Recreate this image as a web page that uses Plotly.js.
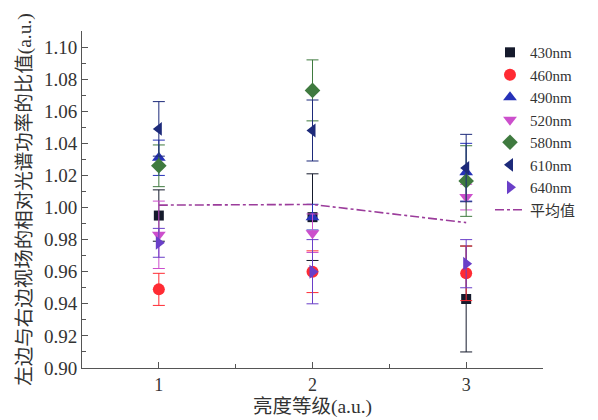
<!DOCTYPE html>
<html>
<head>
<meta charset="utf-8">
<script src="https://cdn.plot.ly/plotly-3.0.1.min.js"></script>
<style>
  html, body { margin: 0; padding: 0; background: #fff; }
  #chart { width: 598px; height: 420px; }
</style>
</head>
<body>
<div id="chart"></div>
<script>
// Brightness levels (x positions)
const levels = [1, 2, 3];

// Ratio of left/right field relative spectral power, per wavelength
const v430 = [0.995, 0.994, 0.943];
const v460 = [0.949, 0.960, 0.959];
const v490 = [1.031, 0.994, 1.022];
const v520 = [0.983, 0.984, 1.0065];
const v580 = [1.026, 1.073, 1.0165];
const v610 = [1.049, 1.048, 1.0246];
const v640 = [0.978, 0.960, 0.965];

// Error bar half-widths
const e430 = [0.016, 0.027, 0.033];
const e460 = [0.010, 0.013, 0.017];
const e490 = [0.011, 0.008, 0.018];
const e520 = [0.021, 0.012, 0.008];
const e580 = [0.013, 0.019, 0.022];
const e610 = [0.017, 0.019, 0.021];
const e640 = [0.009, 0.020, 0.015];

// Average across wavelengths
const avg = [1.0015, 1.0019, 0.9906];

const names = ['430nm', '460nm', '490nm', '520nm', '580nm', '610nm', '640nm', '平均值'];

const seriesDefs = [
  { y: v430, e: e430, color: '#151a2c', symbol: 'square', size: 10 },
  { y: v460, e: e460, color: '#ff2b33', symbol: 'circle', size: 12 },
  { y: v490, e: e490, color: '#2631b8', symbol: 'triangle-up', size: 12 },
  { y: v520, e: e520, color: '#cc4fcc', symbol: 'triangle-down', size: 12 },
  { y: v580, e: e580, color: '#3f7a3f', symbol: 'diamond', size: 12 },
  { y: v610, e: e610, color: '#1d2a7a', symbol: 'triangle-left', size: 12 },
  { y: v640, e: e640, color: '#6a3fc8', symbol: 'triangle-right', size: 12 }
];

const traces = seriesDefs.map((s, i) => ({
  type: 'scatter',
  mode: 'markers',
  name: names[i],
  x: levels,
  y: s.y,
  marker: { symbol: s.symbol, size: s.size, color: s.color },
  error_y: { type: 'data', array: s.e, visible: true, color: s.color, thickness: 1, width: 6 }
}));

traces.push({
  type: 'scatter',
  mode: 'lines',
  name: names[7],
  x: levels,
  y: avg,
  line: { color: '#9b3c9b', width: 1.6, dash: 'dashdot' }
});

const fontFam = 'Times New Roman, Liberation Serif, DejaVu Serif, Noto Sans CJK SC, serif';

const layout = {
  width: 598,
  height: 420,
  margin: { l: 82, r: 55, t: 31, b: 52 },
  paper_bgcolor: '#ffffff',
  plot_bgcolor: '#ffffff',
  showlegend: true,
  font: { family: fontFam, color: '#333', size: 15 },
  xaxis: {
    range: [0.5, 3.5],
    tickvals: levels,
    ticktext: ['1', '2', '3'],
    ticks: 'inside',
    ticklen: 6,
    tickcolor: '#555',
    showline: true,
    linecolor: '#555',
    linewidth: 1,
    showgrid: false,
    zeroline: false,
    minor: { dtick: 0.5, tick0: 0.5, ticks: 'inside', ticklen: 4, tickcolor: '#555', showgrid: false },
    tickfont: { family: fontFam, size: 18, color: '#333' },
    title: { text: '亮度等级(a.u.)', font: { family: fontFam, size: 19.5, color: '#333' }, standoff: 5 }
  },
  yaxis: {
    range: [0.90, 1.11],
    tick0: 0.90,
    dtick: 0.02,
    tickformat: '.2f',
    ticks: 'inside',
    ticklen: 6,
    tickcolor: '#555',
    showline: true,
    linecolor: '#555',
    linewidth: 1,
    showgrid: false,
    zeroline: false,
    minor: { dtick: 0.01, ticks: 'inside', ticklen: 4, tickcolor: '#555', showgrid: false },
    tickfont: { family: fontFam, size: 19, color: '#333' },
    title: { text: '左边与右边视场的相对光谱功率的比值(a.u.)', font: { family: fontFam, size: 19.5, color: '#333' }, standoff: 7 }
  },
  legend: {
    x: 0.885,
    y: 0.985,
    xanchor: 'left',
    yanchor: 'top',
    bgcolor: 'rgba(0,0,0,0)',
    borderwidth: 0,
    itemwidth: 30,
    tracegroupgap: 0,
    font: { family: fontFam, size: 15, color: '#333' }
  }
};

Plotly.newPlot('chart', traces, layout, { displayModeBar: false, staticPlot: true });
</script>
</body>
</html>
